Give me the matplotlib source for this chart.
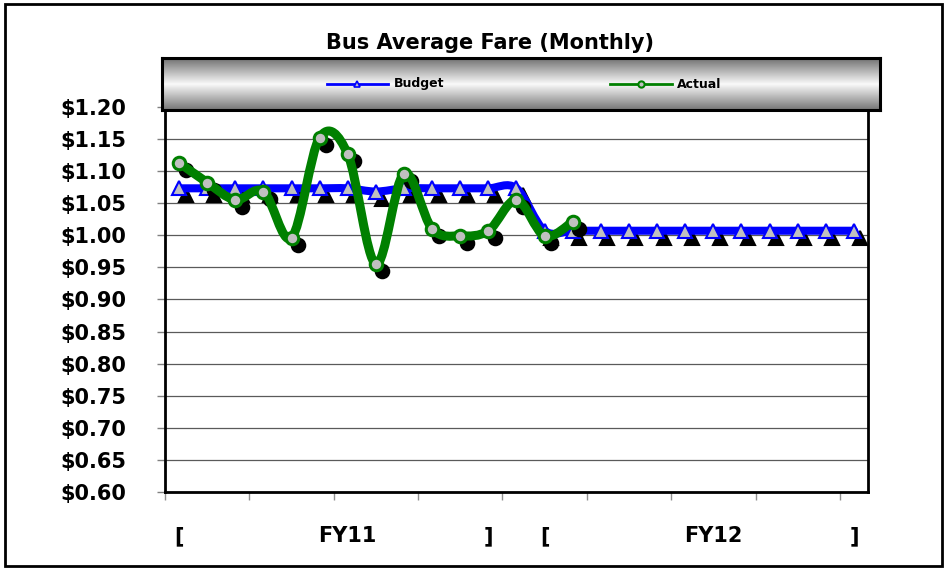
import numpy as np
import matplotlib
matplotlib.use("Agg")
import matplotlib.pyplot as plt
from matplotlib.path import Path
from matplotlib.patches import PathPatch, Rectangle
from matplotlib.transforms import ScaledTranslation, blended_transform_factory
from matplotlib.ticker import FuncFormatter, MultipleLocator

# chart data
title = "Bus Average Fare (Monthly)"
cat_labels = ["[", "", "", "", "", "", "FY11", "", "", "", "", "]", "",
              "[", "", "", "", "", "", "FY12", "", "", "", "", "]"]
budget = [1.073, 1.073, 1.073, 1.073, 1.073, 1.073, 1.073, 1.068, 1.073,
          1.073, 1.073, 1.073, 1.073,
          1.007, 1.007, 1.007, 1.007, 1.007, 1.007, 1.007, 1.007, 1.007,
          1.007, 1.007, 1.007]
actual = [1.113, 1.082, 1.055, 1.068, 0.996, 1.152, 1.126, 0.955, 1.096,
          1.010, 0.999, 1.007, 1.055, 0.999, 1.021]
series_names = ["Budget", "Actual"]

W, H = 945, 568
fig = plt.figure(figsize=(W / 100, H / 100), dpi=100)


def px_box(x0, y0, x1, y1):
    # pixel box (top-left origin) -> figure fraction rect
    return [x0 / W, 1 - y1 / H, (x1 - x0) / W, (y1 - y0) / H]


def smooth_path(xs, ys):
    # Excel-like smoothed line: cubic bezier through every point
    pts = np.column_stack([xs, ys]).astype(float)
    n = len(pts)
    verts = [pts[0]]
    codes = [Path.MOVETO]
    for i in range(n - 1):
        p0 = pts[max(i - 1, 0)]
        p1 = pts[i]
        p2 = pts[i + 1]
        p3 = pts[min(i + 2, n - 1)]
        verts += [p1 + (p2 - p0) / 6, p2 - (p3 - p1) / 6, p2]
        codes += [Path.CURVE4] * 3
    return Path(verts, codes)


# outer chart border
fig.patches.append(Rectangle((5.3 / W, 1 - 566 / H), (942 - 5.3) / W, (566 - 3.7) / H,
                             transform=fig.transFigure, fill=False,
                             edgecolor="black", linewidth=2))

ax = fig.add_axes(px_box(165, 106.7, 868, 492.3))
ax.set_xlim(-0.5, len(cat_labels) - 0.5)
ax.set_ylim(0.60, 1.20)

ax.yaxis.set_major_locator(MultipleLocator(0.05))
ax.yaxis.set_major_formatter(FuncFormatter(lambda v, p: "${:.2f}".format(v)))
ax.grid(axis="y", color="#5a5a5a", linewidth=0.9)
ax.set_axisbelow(True)
ax.tick_params(axis="y", length=6, width=1, color="#808080", pad=22,
               labelsize=15)
for lab in ax.get_yticklabels():
    lab.set_fontweight("bold")

ax.set_xticks(np.arange(-0.5, len(cat_labels), 3))
ax.set_xticklabels([])
ax.tick_params(axis="x", length=6, width=1, color="#909090")

for s in ["left", "bottom", "right"]:
    ax.spines[s].set_linewidth(2)
    ax.spines[s].set_color("black")
ax.spines["top"].set_visible(False)

# category labels under the axis
lab_tr = blended_transform_factory(ax.transData, ax.transAxes)
for i, t in enumerate(cat_labels):
    if t:
        ax.text(i, -0.113, t, transform=lab_tr, ha="center", va="center",
                fontsize=15, fontweight="bold")

# marker shadows, offset down-right
shadow = ax.transData + ScaledTranslation(0.065, -0.07, fig.dpi_scale_trans)

xb = np.arange(len(budget))
xa = np.arange(len(actual))

# budget series
ax.plot(xb, budget, linestyle="none", marker="^", markersize=9.5,
        markerfacecolor="black", markeredgecolor="black", markeredgewidth=1.5,
        transform=shadow, zorder=2)
ax.add_patch(PathPatch(smooth_path(xb, budget), fill=False, edgecolor="#0000ff",
                       linewidth=5.8, capstyle="round", joinstyle="round",
                       zorder=3))
ax.plot(xb, budget, linestyle="none", marker="^", markersize=9.5,
        markerfacecolor="#c0c0c0", markeredgecolor="#0000ff",
        markeredgewidth=1.5, zorder=3)

# actual series
ax.plot(xa, actual, linestyle="none", marker="o", markersize=9,
        markerfacecolor="black", markeredgecolor="black", markeredgewidth=2.2,
        transform=shadow, zorder=4)
ax.add_patch(PathPatch(smooth_path(xa, actual), fill=False, edgecolor="#008000",
                       linewidth=6.5, capstyle="round", joinstyle="round",
                       zorder=5))
ax.plot(xa, actual, linestyle="none", marker="o", markersize=9,
        markerfacecolor="#c0c0c0", markeredgecolor="#008000",
        markeredgewidth=2.2, zorder=5)

# title
fig.text(490 / W, 1 - 43 / H, title, ha="center", va="center",
         fontsize=15, fontweight="bold")

# legend box with grey-white-grey shading
lx0, ly0, lx1, ly1 = 162, 58, 880, 110
lax = fig.add_axes(px_box(lx0, ly0, lx1, ly1))
lax.set_xlim(0, 1)
lax.set_ylim(0, 1)
grad = np.interp(np.linspace(0, 1, 200), [0, 0.5, 1], [0.46, 0.98, 0.44])
lax.imshow(np.repeat(grad[:, None], 3, axis=1)[:, :, None].repeat(3, axis=2),
           extent=[0, 1, 0, 1], aspect="auto", origin="lower")
lax.set_xticks([])
lax.set_yticks([])
for s in lax.spines.values():
    s.set_linewidth(2.2)
    s.set_color("black")


def lfx(px):
    return (px - lx0) / (lx1 - lx0)


ly = 1 - (84 - ly0) / (ly1 - ly0)
lax.plot([lfx(327), lfx(388)], [ly, ly], color="#0000ff", linewidth=2)
lax.plot([lfx(357)], [ly], marker="^", markersize=4, color="#0000ff",
         markerfacecolor="#c0c0c0", markeredgewidth=1.2)
lax.text(lfx(394), ly, series_names[0], ha="left", va="center",
         fontsize=9, fontweight="bold")
lax.plot([lfx(610), lfx(672)], [ly, ly], color="#008000", linewidth=2)
lax.plot([lfx(641)], [ly], marker="o", markersize=4.5, color="#008000",
         markerfacecolor="#c0c0c0", markeredgewidth=1.5)
lax.text(lfx(677), ly, series_names[1], ha="left", va="center",
         fontsize=9, fontweight="bold")

fig.savefig("out.png", dpi=100)
